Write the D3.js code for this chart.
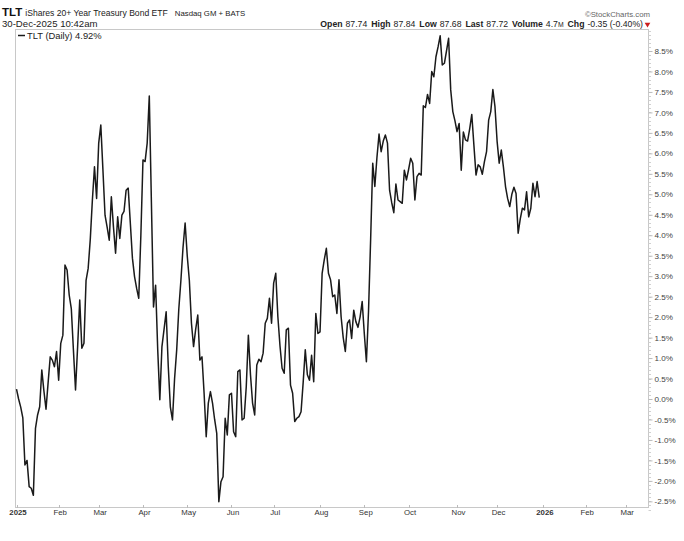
<!DOCTYPE html>
<html>
<head>
<meta charset="utf-8">
<script src="https://cdn.jsdelivr.net/npm/d3@7"></script>
<style>
  html, body { margin: 0; padding: 0; background: #fff; }
  svg { display: block; }
  text { font-family: "Liberation Sans", Arial, sans-serif; }
</style>
</head>
<body>
<svg id="chart" width="684" height="541"></svg>
<script>
// ---- data (percent change since first close, daily, trading-day index 0..248) ----
const symbol = "TLT";
const seriesName = "TLT (Daily) 4.92%";
const values = [
  0.24, 0.0, -0.2, -0.46, -1.61, -1.5, -2.14, -2.18, -2.35, -0.72,
  -0.39, -0.19, 0.71, 0.2, -0.25, 0.4, 1.03, 0.95, 0.79, 1.16,
  0.46, 1.36, 1.56, 3.27, 3.15, 2.54, 2.21, 1.2, 0.22, 1.28,
  2.42, 1.24, 1.36, 2.9, 3.19, 3.9, 4.86, 5.67, 4.9, 6.25,
  6.69, 5.6, 4.49, 4.2, 3.88, 4.94, 4.2, 3.56, 4.45, 3.92,
  4.49, 4.58, 5.1, 5.15, 4.3, 3.44, 2.99, 2.7, 2.46, 4.0,
  5.84, 5.8, 6.25, 7.4, 4.8, 2.25, 2.78, 1.2, -0.02, 1.28,
  1.7, 2.13, 0.8, -0.2, -0.51, 0.5, 1.2, 2.2, 2.9, 3.7,
  4.3, 3.5, 2.9, 1.85, 1.28, 1.7, 2.05, 0.95, 1.03, 0.14,
  -0.92, -0.1, 0.18, -0.1, -0.5, -0.84, -2.51, -2.02, -1.9, -0.47,
  -0.88, 0.1, 0.14, -0.8, -0.92, 0.67, 0.71, -0.51, -0.47, 0.3,
  1.56, 0.6, -0.1, -0.39, 0.83, 0.97, 0.91, 1.12, 1.85, 1.97,
  2.46, 1.85, 2.83, 3.07, 2.01, 1.3, 0.75, 0.63, 1.69, 1.73,
  0.34, 0.14, -0.55, -0.47, -0.43, -0.31, 0.4, 1.2, 0.59, 0.46,
  1.07, 0.42, 2.09, 1.6, 1.64, 3.07, 3.4, 3.68, 3.07, 2.91,
  2.5, 2.54, 2.09, 2.91, 2.01, 1.5, 1.16, 1.85, 1.93, 1.48,
  2.17, 1.89, 1.75, 2.0, 2.38, 1.6, 0.91, 2.13, 3.88, 5.76,
  5.19, 5.9, 6.47, 6.04, 6.3, 6.45, 6.25, 5.1, 4.8, 4.55,
  5.25, 4.86, 4.82, 4.78, 5.59, 5.35, 5.6, 5.88, 5.76, 4.86,
  5.43, 5.51, 5.47, 7.16, 7.12, 7.44, 7.22, 8.0, 7.87, 8.36,
  8.6, 8.87, 8.16, 8.2, 8.5, 8.81, 7.55, 7.02, 6.8, 6.53,
  6.73, 5.59, 6.52, 6.33, 6.3, 6.6, 6.95, 6.2, 5.47, 5.72,
  5.67, 5.49, 5.8, 6.04, 6.81, 7.02, 7.56, 7.14, 6.3, 5.76,
  6.08, 5.67, 5.19, 4.9, 4.7, 5.0, 5.17, 5.02, 4.05, 4.4,
  4.66, 4.62, 5.06, 4.45, 4.66, 5.27, 4.94, 5.31, 4.92
];
// x-axis: trading-day index of each month start and its label
const monthTickIndex = [0, 20, 39, 60, 81, 102, 122, 144, 165, 186, 209, 228, 250, 270, 289];
const monthTickLabels = ["2025", "Feb", "Mar", "Apr", "May", "Jun", "Jul", "Aug", "Sep", "Oct", "Nov", "Dec", "2026", "Feb", "Mar"];
const yearLabels = ["2025", "2026"];
// y-axis ticks (percent)
const yTickValues = [-2.5, -2.0, -1.5, -1.0, -0.5, 0.0, 0.5, 1.0, 1.5, 2.0, 2.5, 3.0, 3.5, 4.0, 4.5, 5.0, 5.5, 6.0, 6.5, 7.0, 7.5, 8.0, 8.5];
// header quote fields
const quoteLabels = ["Open", "High", "Low", "Last", "Volume", "Chg"];
const quoteValues = ["87.74", "87.84", "87.68", "87.72", "4.7", "-0.35 (-0.40%)"];

// ---- layout ----
const svg = d3.select("#chart");
const frame = { left: 15, top: 29, right: 648, bottom: 507 };

const x = d3.scaleLinear().domain([0, 299.6]).range([16.5, 648]);
const y = d3.scaleLinear().domain([0, 8.5]).range([399, 51]);

// frame
svg.append("rect")
  .attr("x", frame.left + 0.5).attr("y", frame.top + 0.5)
  .attr("width", frame.right - frame.left).attr("height", frame.bottom - frame.top)
  .attr("fill", "none").attr("stroke", "#c8c8c8").attr("stroke-width", 1);

// y axis (right side) with minor ticks
const minorTicks = d3.range(-27, 91).map(d => d / 10);
svg.append("g").selectAll("line").data(minorTicks).join("line")
  .attr("x1", frame.right + 0.5).attr("x2", frame.right + 3)
  .attr("y1", d => Math.round(y(d)) + 0.5).attr("y2", d => Math.round(y(d)) + 0.5)
  .attr("stroke", "#d0d0d0").attr("stroke-width", 1);

const yAxis = d3.axisRight(y).tickValues(yTickValues)
  .tickFormat(d => d3.format(".1f")(d) + "%").tickSize(4).tickPadding(2);
const gy = svg.append("g").attr("transform", `translate(${frame.right + 0.5},0)`).call(yAxis);
gy.select(".domain").remove();
gy.selectAll(".tick line").attr("stroke", "#bbb");
gy.selectAll(".tick text")
  .attr("fill", "#444").style("font-size", "8.1px")
  .text(d => (d < 0 ? "-" : "") + d3.format(".1f")(Math.abs(d)) + "%");

// x axis
const xAxis = d3.axisBottom(x).tickValues(monthTickIndex)
  .tickFormat((d, i) => monthTickLabels[i]).tickSize(0).tickPadding(0);
const gx = svg.append("g").attr("transform", `translate(0,${frame.bottom + 1})`).call(xAxis);
gx.select(".domain").remove();
gx.selectAll(".tick text")
  .attr("fill", "#333").attr("dy", "0.9em").attr("dx", 1)
  .style("font-size", "7.8px")
  .style("font-weight", d => yearLabels.includes(monthTickLabels[monthTickIndex.indexOf(d)]) ? "bold" : "normal");
// small tick marks on bottom frame
svg.append("g").selectAll("line").data(monthTickIndex).join("line")
  .attr("x1", d => Math.round(x(d)) + 0.5).attr("x2", d => Math.round(x(d)) + 0.5)
  .attr("y1", frame.bottom - 2).attr("y2", frame.bottom + 1)
  .attr("stroke", "#bbb");

// price line
const line = d3.line().x((d, i) => x(i)).y(d => y(d));
svg.append("path").datum(values)
  .attr("d", line).attr("fill", "none")
  .attr("stroke", "#1a1a1a").attr("stroke-width", 1.5)
  .attr("stroke-linejoin", "round");

// legend
svg.append("line").attr("x1", 18).attr("x2", 25).attr("y1", 35.5).attr("y2", 35.5)
  .attr("stroke", "#1a1a1a").attr("stroke-width", 1.5);
svg.append("text").attr("x", 27).attr("y", 38.5)
  .style("font-size", "9.4px").attr("fill", "#222").text(seriesName);

// header left
const h1 = svg.append("text").attr("x", 2).attr("y", 16);
h1.append("tspan").style("font-size", "11.5px").style("font-weight", "bold").attr("fill", "#111").text(symbol);
h1.append("tspan").attr("dx", 3).style("font-size", "8.6px").attr("fill", "#222").text("iShares 20+ Year Treasury Bond ETF");
h1.append("tspan").attr("dx", 7).style("font-size", "7.8px").attr("fill", "#222").text("Nasdaq GM + BATS");
svg.append("text").attr("x", 2).attr("y", 26.5)
  .style("font-size", "9.6px").attr("fill", "#222").text("30-Dec-2025 10:42am");

// header right
svg.append("text").attr("x", 650).attr("y", 17).attr("text-anchor", "end")
  .style("font-size", "7.8px").attr("fill", "#666").text("\u00A9StockCharts.com");

const q = svg.append("text").attr("x", 643).attr("y", 27).attr("text-anchor", "end")
  .style("font-size", "8.7px").attr("fill", "#222");
quoteLabels.forEach((lab, i) => {
  q.append("tspan").attr("dx", i === 0 ? 0 : 4).style("font-weight", "bold").text(lab);
  q.append("tspan").attr("dx", 3).style("font-weight", "normal").text(quoteValues[i]);
  if (lab === "Volume") q.append("tspan").style("font-size", "6.8px").text("M");
});
svg.append("path")
  .attr("d", d3.symbol().type(d3.symbolTriangle).size(14)())
  .attr("transform", "translate(647.5,24.3) rotate(180)")
  .attr("fill", "#cc1f1f");
</script>
</body>
</html>
